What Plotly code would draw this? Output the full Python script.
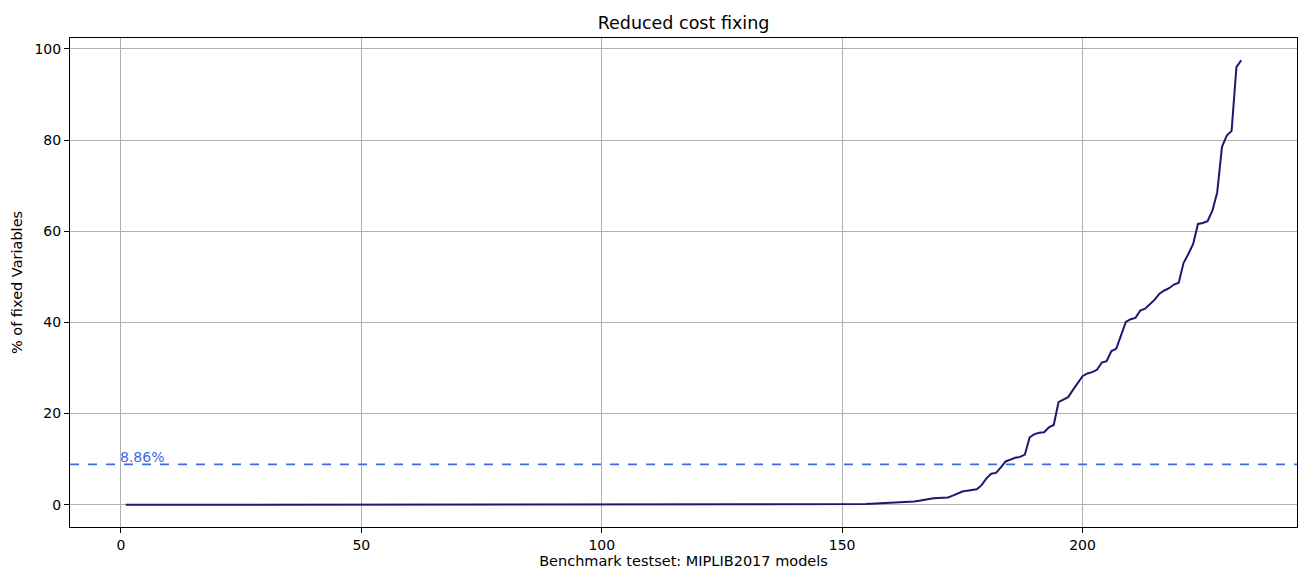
import plotly.graph_objects as go

# x positions: models 1..233
models = list(range(1, 234))

# % of fixed variables, sorted ascending
zeros_part = [
    0.0, 0.0, 0.0, 0.0, 0.0, 0.0, 0.0, 0.0, 0.0, 0.0,
    0.0, 0.0, 0.0, 0.0, 0.0, 0.0, 0.0, 0.0, 0.0, 0.0,
    0.0, 0.0, 0.0, 0.0, 0.0, 0.0, 0.0, 0.0, 0.0, 0.0,
    0.0, 0.0, 0.0, 0.0, 0.0, 0.0, 0.0, 0.0, 0.0, 0.0,
    0.0, 0.0, 0.0, 0.0, 0.0, 0.0, 0.0, 0.0, 0.0, 0.0,
    0.0, 0.0, 0.0, 0.0, 0.0, 0.0, 0.0, 0.0, 0.0, 0.0,
    0.0, 0.0, 0.0, 0.0, 0.0, 0.0, 0.0, 0.0, 0.0, 0.0,
    0.0, 0.0, 0.0, 0.0, 0.0, 0.0, 0.0, 0.0, 0.0, 0.0,
    0.0, 0.0, 0.0, 0.0, 0.0, 0.0, 0.0, 0.0, 0.0, 0.0,
    0.0, 0.0, 0.0, 0.0, 0.0, 0.0, 0.0, 0.0, 0.0, 0.0,
    0.0, 0.0, 0.0, 0.0, 0.0, 0.0, 0.0, 0.0, 0.0, 0.0,
    0.0, 0.0, 0.0, 0.0, 0.0, 0.0, 0.0, 0.0, 0.0, 0.0,
    0.0, 0.0, 0.0, 0.0, 0.0, 0.0, 0.0, 0.0, 0.0, 0.0,
    0.0, 0.0, 0.0, 0.0, 0.0, 0.0, 0.0, 0.0, 0.0, 0.0,
]  # models 1..140
rising_part = [
    0.0, 0.0, 0.01, 0.01, 0.02, 0.03, 0.03, 0.04, 0.05,          # 141-149
    0.05, 0.06, 0.08, 0.1, 0.12, 0.15, 0.2, 0.25, 0.3, 0.35,     # 150-159
    0.4, 0.45, 0.5, 0.55, 0.65, 0.7, 0.9, 1.1, 1.3, 1.45,        # 160-169
    1.5, 1.5, 1.6, 2.0, 2.5, 2.9, 3.1, 3.3, 3.4, 4.3,            # 170-179
    5.8, 6.8, 7.0, 8.2, 9.5, 9.9, 10.3, 10.5, 11.0, 14.8,        # 180-189
    15.5, 15.8, 15.9, 17.0, 17.5, 22.5, 23.0, 23.6, 25.2, 26.7,  # 190-199
    28.2, 28.8, 29.1, 29.6, 31.2, 31.5, 33.7, 34.2, 37.2, 40.1,  # 200-209
    40.7, 41.0, 42.6, 43.0, 44.0, 45.0, 46.3, 47.0, 47.5, 48.3,  # 210-219
    48.7, 53.0, 55.0, 57.2, 61.6, 61.8, 62.2, 64.5, 68.5, 78.5,  # 220-229
    81.0, 82.0, 96.0, 97.5,                                      # 230-233
]
fixed_pct = zeros_part + rising_part

mean_value = 8.86
mean_label = "8.86%"

x_ticks = [0, 50, 100, 150, 200]
y_ticks = [0, 20, 40, 60, 80, 100]

FONT = "DejaVu Sans"

fig = go.Figure()
fig.add_trace(go.Scatter(
    x=models, y=fixed_pct, mode="lines",
    line=dict(color="#191970", width=2),
    showlegend=False, hoverinfo="skip",
))

fig.add_shape(type="line", xref="paper", yref="y", x0=0, x1=1,
              y0=mean_value, y1=mean_value,
              line=dict(color="#4169E1", width=1.8, dash="dash"))
fig.add_annotation(x=0, y=mean_value, xref="x", yref="y", text=mean_label,
                   showarrow=False, xanchor="left", yanchor="bottom",
                   xshift=-3, yshift=-3,
                   font=dict(family=FONT, size=14, color="#4169E1"))

n = len(models)
pad_x = 0.05 * (n - 1)
ymax = max(fixed_pct)
pad_y = 0.05 * ymax

axis_common = dict(
    showgrid=True, gridcolor="#b0b0b0", gridwidth=1,
    showline=True, linecolor="black", linewidth=1, mirror=True,
    ticks="outside", ticklen=5, tickcolor="black", tickwidth=1,
    zeroline=False,
    tickfont=dict(family=FONT, size=14, color="black"),
)

fig.update_layout(
    width=1299, height=575,
    margin=dict(l=70, r=2, t=38, b=48),
    plot_bgcolor="white", paper_bgcolor="white",
    title=dict(text="Reduced cost fixing", x=0.5, xanchor="center",
               xref="paper", y=1 - 23 / 575, yref="container", yanchor="middle",
               font=dict(family=FONT, size=17.5, color="black")),
    xaxis=dict(range=[1 - pad_x, n + pad_x], tickvals=x_ticks,
               title=dict(text="Benchmark testset: MIPLIB2017 models", standoff=4,
                          font=dict(family=FONT, size=14.5, color="black")),
               **axis_common),
    yaxis=dict(range=[-pad_y, ymax + pad_y], tickvals=y_ticks,
               title=dict(text="% of fixed Variables", standoff=8,
                          font=dict(family=FONT, size=14.5, color="black")),
               **axis_common),
)

fig.write_html("out.html")
